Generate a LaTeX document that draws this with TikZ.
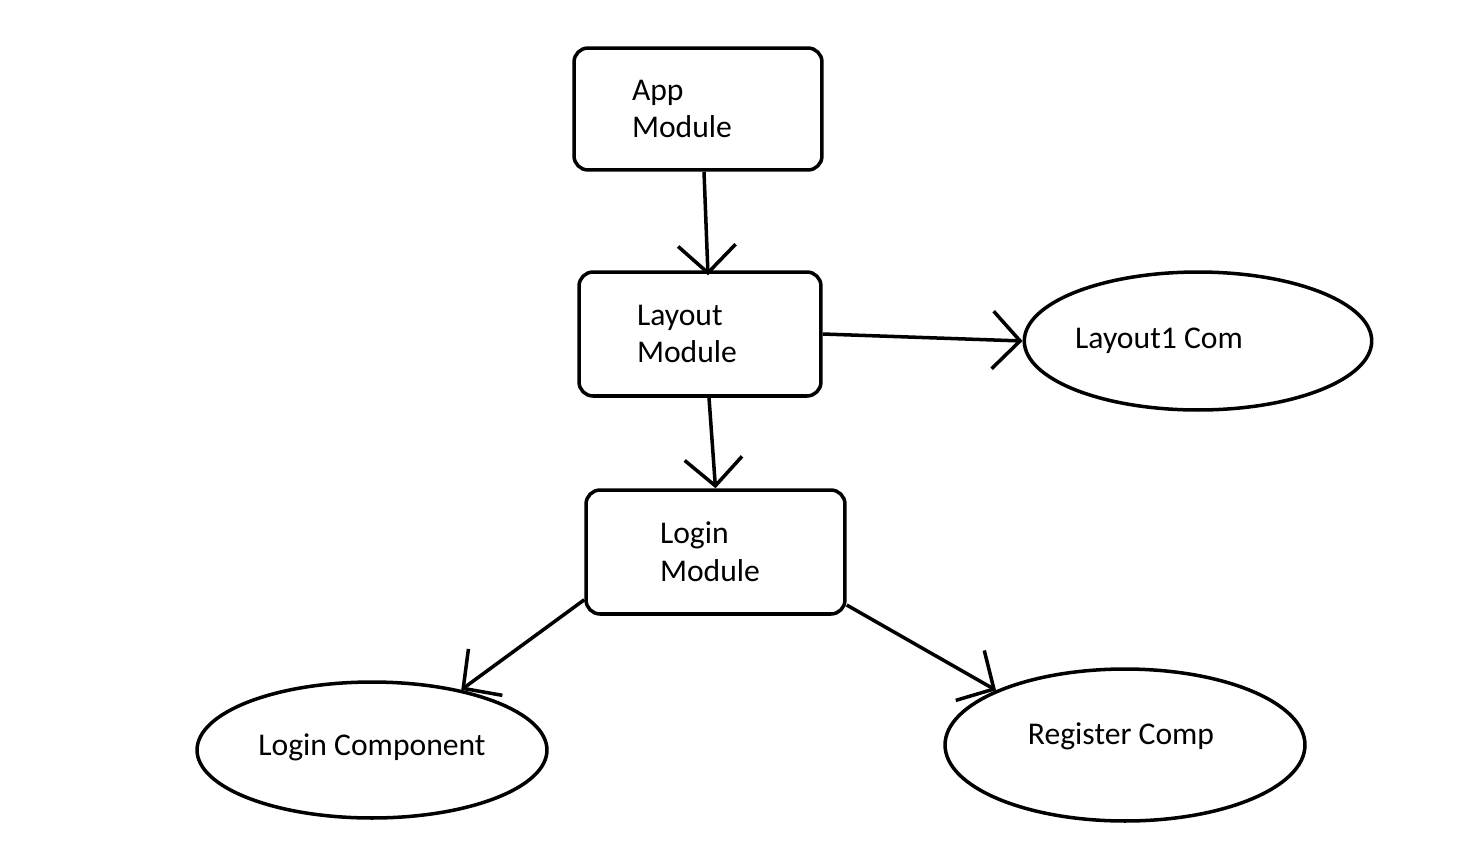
\documentclass[tikz,border=0pt]{standalone}
\usepackage{fontspec}
\setmainfont{Carlito}
\usetikzlibrary{arrows.meta,shapes.geometric}

\tikzset{
	modbox/.style={draw, line width=2pt, rounded corners=8pt, align=left, font=\fontsize{18}{21.5}\selectfont},
	comp/.style={draw, ellipse, line width=2pt, inner sep=0pt, font=\fontsize{18}{21.5}\selectfont},
	arr/.style={line width=2pt, -{Straight Barb[length=0.55cm,width=1.15cm,line width=2pt]}}
}

\begin{document}
\begin{tikzpicture}[x=0.02cm, y=-0.02cm]
	\useasboundingbox (0,0) rectangle (1477,842);
	\node[modbox, minimum height=2.44cm, text width=2.64cm, inner xsep=1.16cm] (app) at (698,109) {App\\Module};
	\node[modbox, minimum height=2.48cm, text width=2.52cm, inner xsep=1.16cm] (layout) at (700,334) {Layout\\Module};
	\node[modbox, minimum height=2.48cm, text width=2.22cm, inner xsep=1.48cm] (login) at (715.5,552) {Login\\Module};
	\node[comp, minimum width=6.86cm, minimum height=2.76cm] (layoutcom) at (1198,341) {Layout1 Com\hspace*{1.56cm}};
	\node[comp, minimum width=7.0cm, minimum height=2.72cm, text depth=0.2cm] (logincomp) at (372,750) {Login Component};
	\node[comp, minimum width=7.2cm, minimum height=3.04cm, text depth=0.46cm] (registercomp) at (1125,745) {Register Comp\hspace*{0.16cm}};
	\draw[arr] ([xshift=0.12cm]app.south) -- ([xshift=0.16cm,yshift=-0.1cm]layout.north);
	\draw[arr] (layout.east) -- (layoutcom.west);
	\draw[arr] ([xshift=0.18cm]layout.south) -- (login.north);
	\draw[arr] (login.200) -- (logincomp.34);
	\draw[arr] (login.-22) -- (registercomp.157);
\end{tikzpicture}
\end{document}
